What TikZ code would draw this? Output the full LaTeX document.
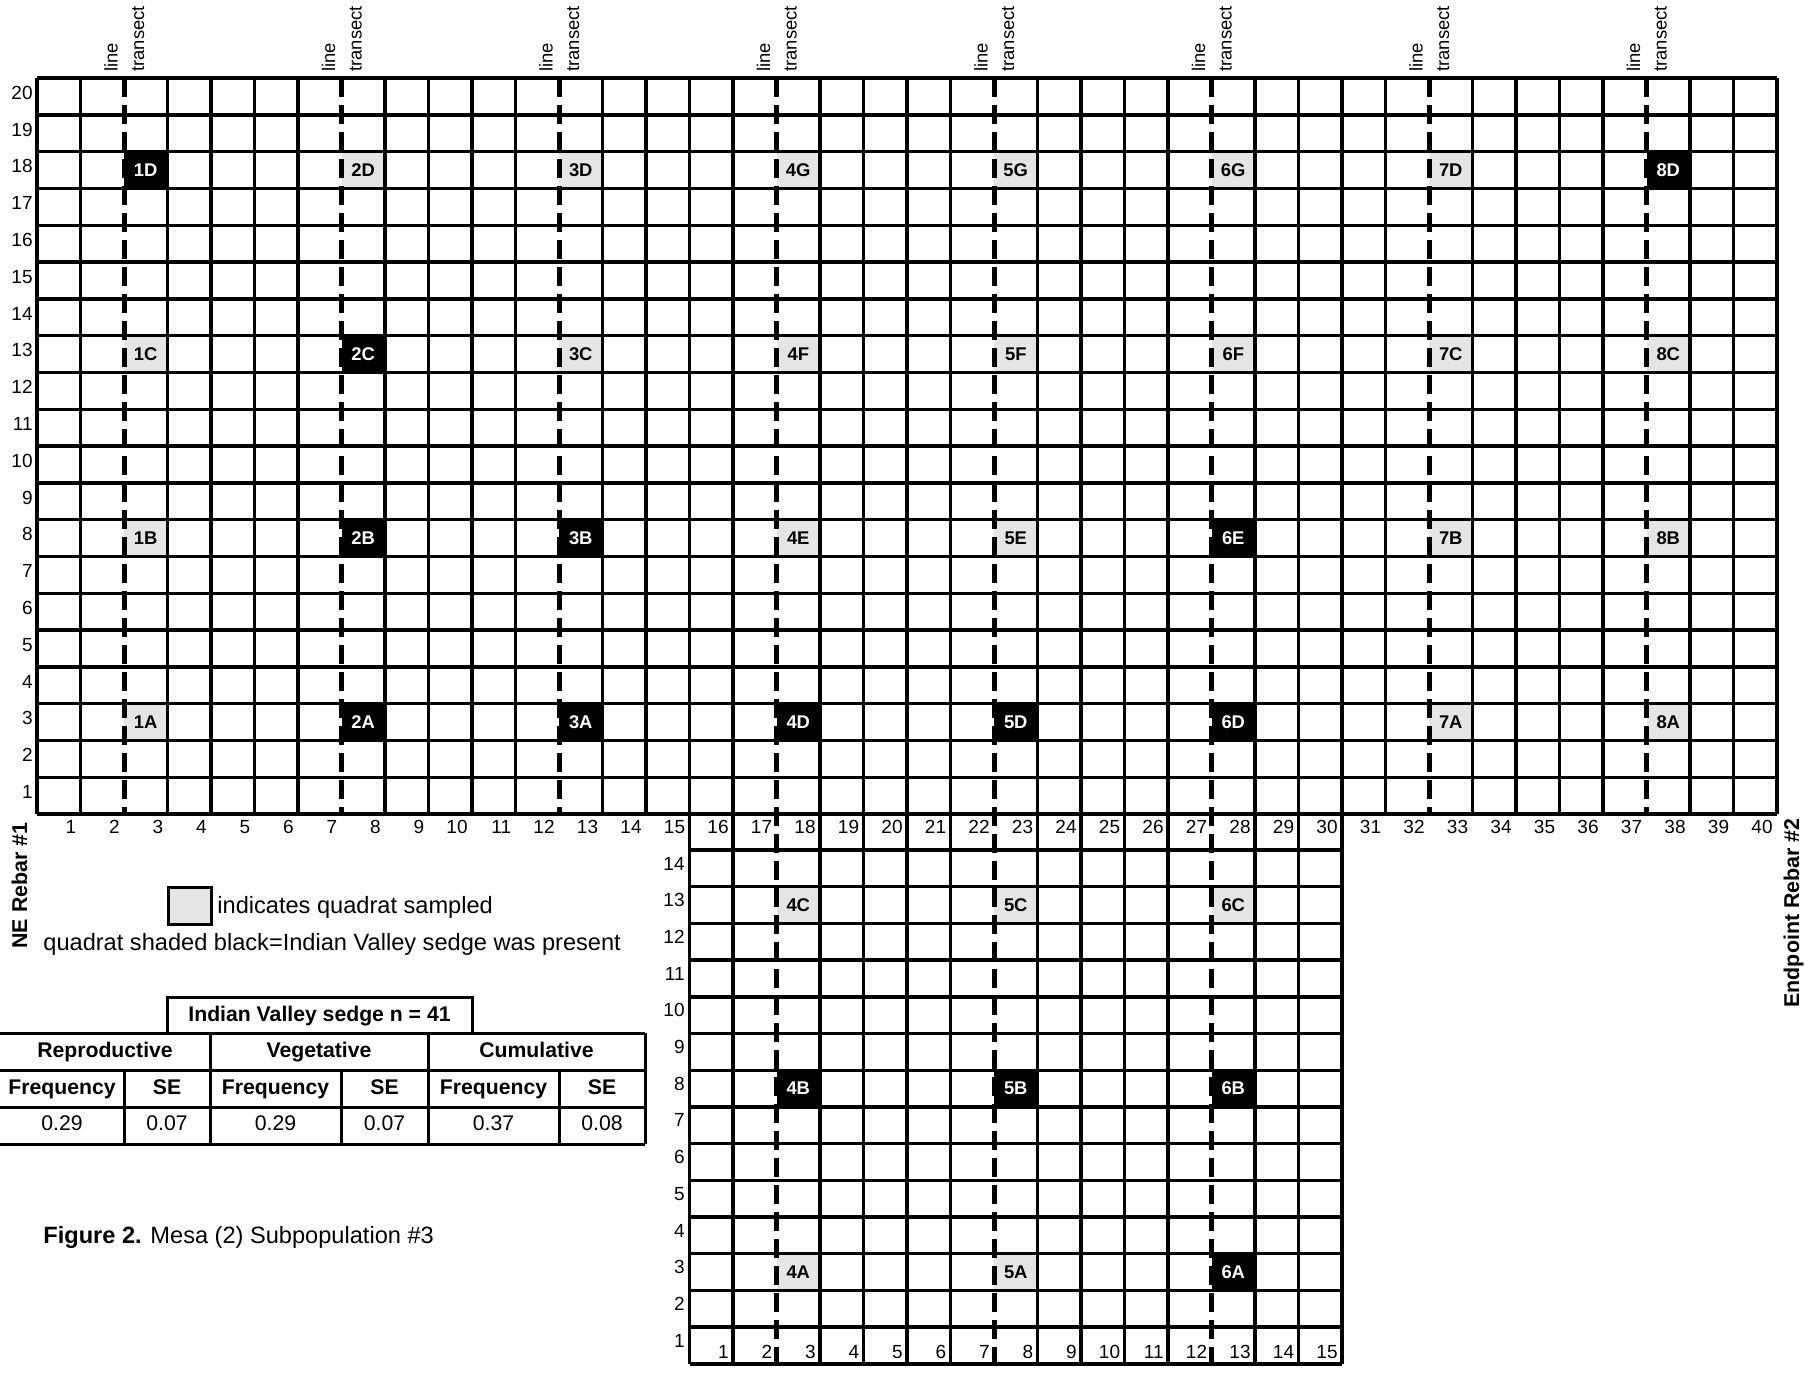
\documentclass[tikz,border=0pt]{standalone}
\usepackage{fontspec}
\setmainfont{Liberation Sans}
\newcommand\gridnumfont{\fontsize{9.5}{11}\selectfont}
\newcommand\cellfont{\fontsize{9.2}{11}\selectfont\bfseries}
\newcommand\transfont{\fontsize{9.2}{11}\selectfont}
\newcommand\tabfont{\fontsize{10.6}{12}\selectfont}
\newcommand\rebarfont{\fontsize{10.7}{12}\selectfont\bfseries}
\newcommand\legfont{\fontsize{11.8}{14}\selectfont}
\definecolor{qgrey}{gray}{0.9}
\begin{document}
\begin{tikzpicture}[x=0.5pt,y=-0.5pt,
  gl/.style={line width=1.7pt},
  tl/.style={line width=2.5pt, dash pattern=on 9.5pt off 4pt},
  tabl/.style={line width=1.5pt},
  quad/.style={minimum width=21.75pt, minimum height=18.4pt, inner sep=0pt, font=\cellfont},
  num/.style={anchor=base east, inner sep=0pt, font=\gridnumfont},
  tlab/.style={anchor=base west, inner sep=0pt, rotate=90, font=\transfont},
  tabtxt/.style={anchor=base, inner sep=0pt, font=\tabfont},
  tabbold/.style={anchor=base, inner sep=0pt, font=\tabfont\bfseries},
  leg/.style={anchor=base west, inner sep=0pt, font=\legfont}]
\useasboundingbox[fill=white] (0,0) rectangle (1818,1372);

% ---- sampled quadrats, main grid
\foreach \t/\r/\l/\f/\c in {
 1/18/1D/black/white, 2/18/2D/qgrey/black, 3/18/3D/qgrey/black, 4/18/4G/qgrey/black,
 5/18/5G/qgrey/black, 6/18/6G/qgrey/black, 7/18/7D/qgrey/black, 8/18/8D/black/white,
 1/13/1C/qgrey/black, 2/13/2C/black/white, 3/13/3C/qgrey/black, 4/13/4F/qgrey/black,
 5/13/5F/qgrey/black, 6/13/6F/qgrey/black, 7/13/7C/qgrey/black, 8/13/8C/qgrey/black,
 1/8/1B/qgrey/black, 2/8/2B/black/white, 3/8/3B/black/white, 4/8/4E/qgrey/black,
 5/8/5E/qgrey/black, 6/8/6E/black/white, 7/8/7B/qgrey/black, 8/8/8B/qgrey/black,
 1/3/1A/qgrey/black, 2/3/2A/black/white, 3/3/3A/black/white, 4/3/4D/black/white,
 5/3/5D/black/white, 6/3/6D/black/white, 7/3/7A/qgrey/black, 8/3/8A/qgrey/black}
 \node[quad, fill=\f, text=\c] (q\l) at ({37+(5*\t-2.5)*43.5}, {78+(20-\r+0.5)*36.8}) {\l};

% ---- sampled quadrats, lower grid
\foreach \t/\r/\l/\f/\c in {
 4/13/4C/qgrey/black, 5/13/5C/qgrey/black, 6/13/6C/qgrey/black,
 4/8/4B/black/white, 5/8/5B/black/white, 6/8/6B/black/white,
 4/3/4A/qgrey/black, 5/3/5A/qgrey/black, 6/3/6A/black/white}
 \node[quad, fill=\f, text=\c] (q\l) at ({37+(5*\t-2.5)*43.5}, {850+(14-\r+0.5)*36.7}) {\l};

% ---- main grid lines
\foreach \i in {0,...,20}
  \draw[gl] (37,{78+\i*36.8}) -- (1777,{78+\i*36.8});
\foreach \k in {0,...,40}{
  \pgfmathtruncatemacro{\m}{mod(\k,5)}
  \ifnum\m=2 \else
    \draw[gl] ({37+\k*43.5},78) -- ({37+\k*43.5},814);
  \fi}
% ---- lower grid lines
\foreach \i in {0,...,14}
  \draw[gl] (689.5,{850+\i*36.7}) -- (1342,{850+\i*36.7});
\foreach \k in {15,...,30}{
  \pgfmathtruncatemacro{\m}{mod(\k,5)}
  \ifnum\m=2 \else
    \draw[gl] ({37+\k*43.5},814) -- ({37+\k*43.5},1364);
  \fi}

% ---- transect lines and labels
\foreach \k in {2,7,12,32,37}
  \draw[tl] ({37+\k*43.5},78) -- ({37+\k*43.5},814);
\foreach \k in {17,22,27}
  \draw[tl] ({37+\k*43.5},78) -- ({37+\k*43.5},1364);
\foreach \k [count=\n] in {2,7,12,17,22,27,32,37}{
  \node[tlab] (line\n) at ({37+\k*43.5-6.5},72) {line};
  \node[tlab] (tran\n) at ({37+\k*43.5+20},72) {transect};
}

% ---- row and column numbers
\foreach \r in {1,...,20}
  \node[num] (rn\r) at (33,{78+(20-\r)*36.8+21.3}) {\r};
\foreach \c in {1,...,40}
  \node[num] (cn\c) at ({37+\c*43.5-4},833) {\c};
\foreach \r in {1,...,14}
  \node[num] (brn\r) at (685,{850+(14-\r)*36.7+20}) {\r};
\foreach \c in {1,...,15}
  \node[num] (bcn\c) at ({37+(\c+15)*43.5-4},1358) {\c};

% ---- rebar labels
\node[anchor=base east, inner sep=0pt, rotate=90, font=\rebarfont] (rebar1) at (27,822) {NE Rebar \#1};
\node[anchor=base east, inner sep=0pt, rotate=90, font=\rebarfont] (rebar2) at (1799,818) {Endpoint Rebar \#2};

% ---- legend
\node[draw, line width=1.5pt, fill=qgrey, minimum width=21.5pt, minimum height=18.5pt, inner sep=0pt] (legbox) at (189.5,906) {};
\node[leg] (leg1) at (217,913) {indicates quadrat sampled};
\node[leg] (leg2) at (43,950) {quadrat shaded black=Indian Valley sedge was present};

% ---- table
\draw[tabl] (167,1033) -- (167,997) -- (472,997) -- (472,1033);
\foreach \y in {1033,1070,1107,1144}
  \draw[tabl] (0,\y) -- (645,\y);
\foreach \x in {210,428,645}
  \draw[tabl] (\x,1033) -- (\x,1144);
\foreach \x in {124,341,559}
  \draw[tabl] (\x,1070) -- (\x,1144);
\node[tabbold] (ttitle) at (319.5,1021) {Indian Valley sedge n = 41};
\node[tabbold] (hrep) at (105,1057) {Reproductive};
\node[tabbold] (hveg) at (319,1057) {Vegetative};
\node[tabbold] (hcum) at (536.5,1057) {Cumulative};
\foreach \a/\b/\n in {0/124/1,210/341/2,428/559/3}
  \node[tabbold] (hf\n) at ({(\a+\b)/2},1094) {Frequency};
\foreach \a/\b/\n in {124/210/1,341/428/2,559/645/3}
  \node[tabbold] (hs\n) at ({(\a+\b)/2},1094) {SE};
\foreach \a/\b/\v/\n in {0/124/0.29/1,124/210/0.07/2,210/341/0.29/3,341/428/0.07/4,428/559/0.37/5,559/645/0.08/6}
  \node[tabtxt] (val\n) at ({(\a+\b)/2},1130.5) {\v};

% ---- caption
\node[leg] (caption) at (43,1243) {\textbf{Figure 2.} Mesa (2) Subpopulation \#3};
\end{tikzpicture}
\end{document}
